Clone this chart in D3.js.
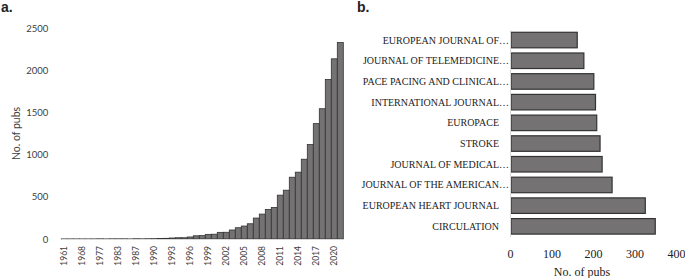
<!DOCTYPE html>
<html>
<head>
<meta charset="utf-8">
<script src="https://cdn.jsdelivr.net/npm/d3@7"></script>
<style>
  body { margin: 0; background: #fff; }
  svg { display: block; }
</style>
</head>
<body>
<svg id="chart" width="685" height="278"></svg>
<script>
// Panel a: publications per year (only years with output are listed)
const years = ['1961', '1963', '1965', '1968', '1971', '1974', '1977', '1979', '1981', '1983',
  '1984', '1985', '1987', '1988', '1989', '1990', '1991', '1992', '1993', '1994', '1995',
  '1996', '1997', '1998', '1999', '2000', '2001', '2002', '2003', '2004', '2005', '2006',
  '2007', '2008', '2009', '2010', '2011', '2012', '2013', '2014', '2015', '2016', '2017',
  '2018', '2019', '2020', '2021'];
const pubs = [1, 1, 1, 1, 1, 1, 2, 1, 2, 2, 2, 1, 3, 2, 3,
  4, 5, 8, 12, 15, 15, 24, 38, 40, 55, 57, 79, 80, 107, 134, 154, 181,
  249, 296, 352, 375, 521, 580, 734, 794, 948, 1122, 1371, 1548, 1896, 2141, 2334];
const yTicksA = [0, 500, 1000, 1500, 2000, 2500];

// Panel b: top journals
const journals = ['EUROPEAN JOURNAL OF...', 'JOURNAL OF TELEMEDICINE...', 'PACE PACING AND CLINICAL...',
  'INTERNATIONAL JOURNAL...', 'EUROPACE', 'STROKE', 'JOURNAL OF MEDICAL...',
  'JOURNAL OF THE AMERICAN...', 'EUROPEAN HEART JOURNAL', 'CIRCULATION'];
const journalPubs = [162, 178, 202, 206, 209, 217, 222, 246, 326, 350];
const xTicksB = [0, 100, 200, 300, 400];

const BAR_FILL = '#747272';
const BAR_STROKE = '#333';
const AXIS_GREY = '#d9d9d9';
const SANS = 'Lato, "Open Sans", sans-serif';
const SERIF = '"Liberation Serif", "DejaVu Serif", serif';

const svg = d3.select('#chart');

// ---- panel a ----
const xA = d3.scaleBand().domain(years).range([61.3, 343.3]).padding(0);
const yA = d3.scaleLinear().domain([0, 2500]).range([239, 28.6]);

svg.append('g')
  .selectAll('rect')
  .data(years)
  .join('rect')
  .attr('x', (d) => xA(d))
  .attr('y', (d, i) => yA(pubs[i]))
  .attr('width', xA.bandwidth())
  .attr('height', (d, i) => yA(0) - yA(pubs[i]))
  .attr('fill', BAR_FILL)
  .attr('stroke', BAR_STROKE)
  .attr('stroke-width', 0.8);

const yAxisA = svg.append('g')
  .attr('transform', `translate(${xA.range()[0]},0)`)
  .call(d3.axisLeft(yA).tickValues(yTicksA).tickFormat(d3.format('d')).tickSize(0).tickPadding(13));
yAxisA.select('.domain').remove();
yAxisA.selectAll('text')
  .style('font-family', SANS)
  .style('font-size', '9.5px')
  .style('fill', '#404040');

const xAxisA = svg.append('g')
  .attr('transform', `translate(0,${yA(0)})`)
  .call(d3.axisBottom(xA)
    .tickValues(years.filter((d, i) => i % 3 === 0))
    .tickSize(0)
    .tickSizeOuter(0));
xAxisA.select('.domain').attr('stroke', AXIS_GREY);
xAxisA.selectAll('text')
  .attr('transform', 'rotate(-90)')
  .attr('text-anchor', 'end')
  .attr('x', -7)
  .attr('y', 0)
  .attr('dy', '0.35em')
  .style('font-family', SANS)
  .style('font-size', '8.5px')
  .style('fill', '#404040');

svg.append('text')
  .attr('transform', 'translate(16,133.5) rotate(-90)')
  .attr('text-anchor', 'middle')
  .attr('dy', '0.35em')
  .style('font-family', SANS)
  .style('font-size', '10.5px')
  .style('fill', '#404040')
  .text('No. of pubs');

svg.append('text')
  .attr('x', 1)
  .attr('y', 12)
  .style('font-family', '"Liberation Sans", Arial, sans-serif')
  .style('font-weight', 'bold')
  .style('font-size', '14px')
  .style('fill', '#222')
  .text('a.');

// ---- panel b ----
const xB = d3.scaleLinear().domain([0, 400]).range([510, 676]);
const yB = d3.scaleBand().domain(journals).range([29.7, 236.7])
  .paddingInner(0.25).paddingOuter(0.125);

svg.append('g')
  .selectAll('rect')
  .data(journals)
  .join('rect')
  .attr('x', xB(0) + 1)
  .attr('y', (d) => yB(d))
  .attr('width', (d, i) => xB(journalPubs[i]) - xB(0) - 1)
  .attr('height', yB.bandwidth())
  .attr('fill', BAR_FILL)
  .attr('stroke', BAR_STROKE)
  .attr('stroke-width', 1.2);

const yAxisB = svg.append('g')
  .attr('transform', `translate(${xB(0)},0)`)
  .call(d3.axisLeft(yB).tickSize(0).tickSizeOuter(0).tickFormat(''));
yAxisB.select('.domain').attr('stroke', AXIS_GREY);

// labels are right aligned; the ellipsis of cut-off names hangs past the edge
const labelEdge = 499;
const labels = svg.append('g')
  .style('font-family', SERIF)
  .style('font-size', '10px')
  .style('fill', '#222');
journals.forEach((name) => {
  const cut = name.endsWith('...');
  const cy = yB(name) + yB.bandwidth() / 2;
  labels.append('text')
    .attr('x', labelEdge)
    .attr('y', cy)
    .attr('dy', '0.35em')
    .attr('text-anchor', 'end')
    .text(cut ? name.slice(0, -3) : name);
  if (cut) {
    labels.append('text')
      .attr('x', labelEdge)
      .attr('y', cy)
      .attr('dy', '0.35em')
      .text('\u2026');
  }
});

const xAxisB = svg.append('g')
  .attr('transform', `translate(0,${yB.range()[1]})`)
  .call(d3.axisBottom(xB).tickValues(xTicksB).tickSize(0).tickPadding(13));
xAxisB.select('.domain').remove();
xAxisB.selectAll('text')
  .style('font-family', SERIF)
  .style('font-size', '12px')
  .style('fill', '#222');

svg.append('text')
  .attr('x', 582)
  .attr('y', 276)
  .attr('text-anchor', 'middle')
  .style('font-family', SERIF)
  .style('font-size', '12px')
  .style('fill', '#222')
  .text('No. of pubs');

svg.append('text')
  .attr('x', 357)
  .attr('y', 12)
  .style('font-family', '"Liberation Sans", Arial, sans-serif')
  .style('font-weight', 'bold')
  .style('font-size', '14px')
  .style('fill', '#222')
  .text('b.');
</script>
</body>
</html>
